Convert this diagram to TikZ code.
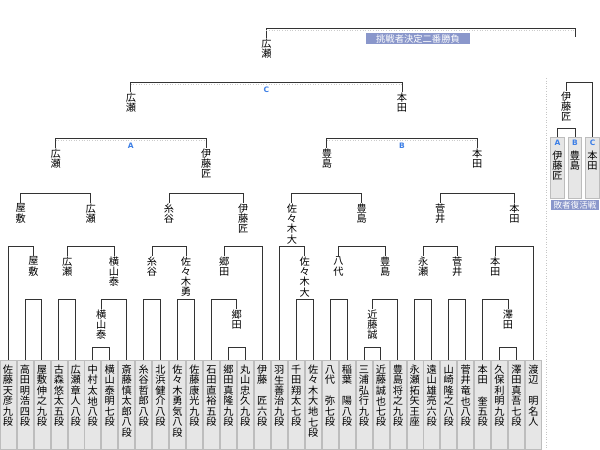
\documentclass[tikz,border=0pt]{standalone}
\usepackage{fontspec}
\setmainfont{Noto Sans CJK JP}
\newfontfamily\abcfont{DejaVu Sans}
\usetikzlibrary{calc}
\definecolor{lncol}{HTML}{333333}
\definecolor{boxfill}{HTML}{E6E6E6}
\definecolor{boxedge}{HTML}{BDBDBD}
\definecolor{titlefill}{HTML}{8A97CB}
\definecolor{abcblue}{HTML}{3D7FE6}
\ExplSyntaxOn
\NewDocumentCommand \vt { O{10.3pt} m }
  {
    \tl_set:Nx \l_tmpa_tl {#2}
    \vbox:n
      {
        \offinterlineskip
        \tl_map_inline:Nn \l_tmpa_tl
          { \hbox_to_wd:nn {11pt} { \hss \vbox_to_ht:nn {#1} { \vss \hbox:n {##1} \vss } \hss } }
      }
  }
\ExplSyntaxOff
\tikzset{
  conn/.style={draw=lncol, line width=0.85pt},
  shadowln/.style={draw=gray!40, dotted, line width=0.6pt},
  lbl/.style={inner sep=0pt, anchor=north, font=\fontsize{10.2}{10.2}\selectfont},
  pbox/.style={draw=boxedge, fill=boxfill, line width=0.6pt, inner sep=0pt, anchor=north,
    minimum width=16pt, font=\fontsize{10.2}{10.2}\selectfont},
  lbox/.style={draw=boxedge, fill=boxfill, line width=0.6pt, inner sep=0pt, anchor=north,
    minimum width=13.5pt, font=\fontsize{10.2}{10.2}\selectfont},
  abc/.style={inner sep=0pt, text=abcblue, font=\abcfont\bfseries\fontsize{7.5}{7.5}\selectfont},
  ttl/.style={fill=titlefill, text=white, inner sep=0pt, font=\fontsize{9.3}{9.3}\selectfont},
}
\newcommand\abcmark[1]{{\abcfont\bfseries\fontsize{7.5}{7.5}\selectfont\color{abcblue}#1}}
\newcommand\mline[3]{\draw[conn] let \p1=(#1.north), \p2=(#2.north) in
  (\p1) -- (\x1,-#3pt) -- (\x2,-#3pt) -- (\p2);}
\newcommand\mshadow[3]{\draw[shadowln] let \p1=(#1.north), \p2=(#2.north) in
  (\x1,-#3pt-2pt) -- (\x2,-#3pt-2pt);}
\newcommand\match[6]{%
  \path let \p1=($(#2.north)!0.5!(#3.north)$) in node[lbl] (#1) at (\x1,-#5pt) {\vt{#6}};
  \mline{#2}{#3}{#4}}
\begin{document}
\begin{tikzpicture}[x=1pt,y=-1pt]
\useasboundingbox (0,0) rectangle (600,450);
\fill[white] (0,0) rectangle (600,450);
% player boxes
\foreach \n [count=\i from 0] in {佐藤天彦九段,高田明浩四段,屋敷伸之九段,古森悠太五段,
  広瀬章人八段,中村太地八段,横山泰明七段,斎藤慎太郎八段,糸谷哲郎八段,北浜健介八段,
  佐々木勇気八段,佐藤康光九段,石田直裕五段,郷田真隆九段,丸山忠久九段,伊藤　匠六段,
  羽生善治九段,千田翔太七段,佐々木大地七段,八代　弥七段,稲葉　陽八段,三浦弘行九段,
  近藤誠也七段,豊島将之九段,永瀬拓矢王座,遠山雄亮六段,山崎隆之八段,菅井竜也八段,
  本田　奎五段,久保利明九段,澤田真吾七段,渡辺　明名人}
{
  \node[pbox] (b\i) at ({8+16.95*\i},360)
    {\vbox to 89pt{\vskip 4pt\hbox to 16pt{\hss\vt[10.5pt]{\n}\hss}\vss}};
}
% block A
\match{L1}{b1}{b2}{299}{256}{屋敷}
\match{L2}{b0}{L1}{246}{203}{屋敷}
\match{L3}{b3}{b4}{299}{256}{広瀬}
\match{L4}{b5}{b6}{347}{309}{横山泰}
\match{L5}{L4}{b7}{299}{256}{横山泰}
\match{L6}{L3}{L5}{246}{203}{広瀬}
\match{L7}{L2}{L6}{193}{148}{広瀬}
\match{L8}{b8}{b9}{299}{256}{糸谷}
\match{L9}{b10}{b11}{299}{256}{佐々木勇}
\match{L10}{L8}{L9}{246}{203}{糸谷}
\match{L11}{b13}{b14}{347}{309}{郷田}
\match{L12}{b12}{L11}{299}{256}{郷田}
\match{L13}{L12}{b15}{246}{203}{伊藤匠}
\match{L14}{L10}{L13}{193}{148}{伊藤匠}
\match{L15}{L7}{L14}{138}{92}{広瀬}
% block B
\match{L16}{b17}{b18}{299}{256}{佐々木大}
\match{L17}{b16}{L16}{246}{203}{佐々木大}
\match{L18}{b19}{b20}{299}{256}{八代}
\match{L19}{b21}{b22}{347}{309}{近藤誠}
\match{L20}{L19}{b23}{299}{256}{豊島}
\match{L21}{L18}{L20}{246}{203}{豊島}
\match{L22}{L17}{L21}{193}{148}{豊島}
\match{L23}{b24}{b25}{299}{256}{永瀬}
\match{L24}{b26}{b27}{299}{256}{菅井}
\match{L25}{L23}{L24}{246}{203}{菅井}
\match{L26}{b29}{b30}{347}{309}{澤田}
\match{L27}{b28}{L26}{299}{256}{本田}
\match{L28}{L27}{b31}{246}{203}{本田}
\match{L29}{L25}{L28}{193}{148}{本田}
\match{L30}{L22}{L29}{138}{92}{本田}
% C and final
\match{L31}{L15}{L30}{82}{38}{広瀬}
\node[inner sep=0pt, minimum size=0pt, anchor=north] (fin) at (575,37) {};
\mline{L31}{fin}{28}
\mshadow{L7}{L14}{138}
\mshadow{L22}{L29}{138}
\mshadow{L15}{L30}{82}
\mshadow{L31}{fin}{28}
\path let \p1=(L15.north) in node[abc] (labA) at (\x1,-146pt) {A};
\path let \p1=(L30.north) in node[abc] (labB) at (\x1,-146pt) {B};
\path let \p1=(L31.north) in node[abc] (labC) at (\x1,-90pt) {C};
\node[ttl, minimum width=104pt, minimum height=11pt] (title) at (418,38.5) {挑戦者決定二番勝負};
% loser bracket
\draw[gray!45, dotted, line width=0.6pt] (546,78) -- (546,450);
\node[lbox] (lA) at (557.5,137) {\vbox to 61pt{\vskip 3pt\hbox to 13.5pt{\hss\abcmark{A}\hss}\vskip 3.5pt\hbox to 13.5pt{\hss\vt{伊藤匠}\hss}\vss}};
\node[lbox] (lB) at (575,137) {\vbox to 61pt{\vskip 3pt\hbox to 13.5pt{\hss\abcmark{B}\hss}\vskip 3.5pt\hbox to 13.5pt{\hss\vt{豊島}\hss}\vss}};
\node[lbox] (lC) at (592.5,137) {\vbox to 61pt{\vskip 3pt\hbox to 13.5pt{\hss\abcmark{C}\hss}\vskip 3.5pt\hbox to 13.5pt{\hss\vt{本田}\hss}\vss}};
\match{LW}{lA}{lB}{128}{91}{伊藤匠}
\mline{LW}{lC}{82}
\node[ttl, minimum width=48pt, minimum height=10.5pt, font=\fontsize{8.6}{8.6}\selectfont] (ltitle) at (575,205) {敗者復活戦};
\end{tikzpicture}
\end{document}
